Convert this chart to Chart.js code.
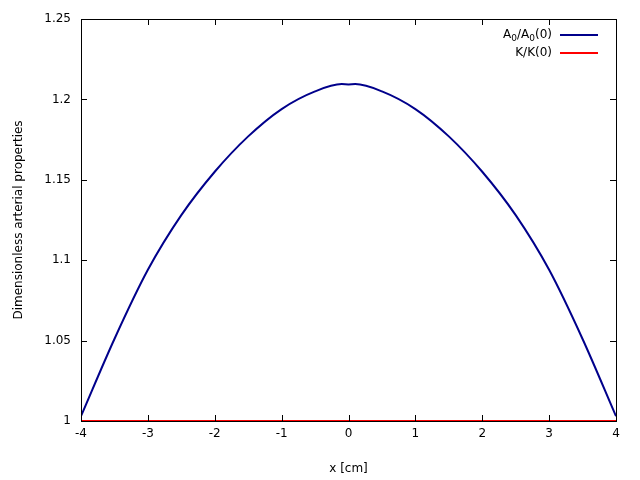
<!DOCTYPE html>
<html><head><meta charset="utf-8">
<script src="https://cdn.jsdelivr.net/npm/chart.js@4"></script>
<style>body{margin:0;background:#fff}#wrap{width:640px;height:480px}</style>
</head><body><div id="wrap"><canvas id="c"></canvas></div>
<script>
const xs = [-4, -3.5, -3, -2.5, -2, -1.5, -1, -0.5, -0.1, 0, 0.1, 0.5, 1, 1.5, 2, 2.5, 3, 3.5, 4]
const areaRatio = [1.003, 1.051, 1.094, 1.128, 1.155, 1.177, 1.194, 1.205, 1.2095, 1.2093, 1.2095, 1.205, 1.194, 1.177, 1.155, 1.128, 1.094, 1.051, 1.003]
const stiffRatio = [1, 1, 1, 1, 1, 1, 1, 1, 1, 1, 1, 1, 1, 1, 1, 1, 1, 1, 1]
const xTicks = [-4, -3, -2, -1, 0, 1, 2, 3, 4]
const yTicks = [1, 1.05, 1.1, 1.15, 1.2, 1.25]

const font = "'DejaVu Sans', sans-serif"

const frame = {
  id: 'frame',
  afterDraw(chart) {
    const c = chart.ctx, a = chart.chartArea
    const sx = chart.scales.x, sy = chart.scales.y
    c.save()
    c.strokeStyle = '#000'
    c.lineWidth = 1
    c.strokeRect(a.left + 0.5, a.top + 0.5, a.right - a.left, a.bottom - a.top)
    c.beginPath()
    xTicks.forEach(function(t){
      const p = Math.round(sx.getPixelForValue(t)) + 0.5
      c.moveTo(p, a.bottom); c.lineTo(p, a.bottom - 6)
      c.moveTo(p, a.top); c.lineTo(p, a.top + 6)
    })
    yTicks.forEach(function(t){
      const p = Math.round(sy.getPixelForValue(t)) + 0.5
      c.moveTo(a.left, p); c.lineTo(a.left + 6, p)
      c.moveTo(a.right, p); c.lineTo(a.right - 6, p)
    })
    c.stroke()
    // legend
    c.fillStyle = '#000'
    c.textBaseline = 'middle'
    c.textAlign = 'right'
    const lx = 560
    const y = 35
    const parts = [['(0)', 0], ['0', 4], ['/A', 0], ['0', 4], ['A', 0]]
    let x = lx - 8
    parts.forEach(function(p){
      c.font = (p[1] ? '9px ' : '12px ') + font
      c.fillText(p[0], x, y + p[1])
      x -= c.measureText(p[0]).width
    })
    c.font = '12px ' + font
    c.fillText('K/K(0)', lx - 8, y + 18)
    c.lineWidth = 2
    c.strokeStyle = '#00008b'
    c.beginPath(); c.moveTo(lx, y); c.lineTo(lx + 38, y); c.stroke()
    c.strokeStyle = '#ff0000'
    c.beginPath(); c.moveTo(lx, y + 18); c.lineTo(lx + 38, y + 18); c.stroke()
    c.restore()
  }
}

new Chart(document.getElementById('c'), {
  type: 'scatter',
  data: {
    datasets: [
      {
        label: 'A0/A0(0)',
        data: xs.map((x, i) => ({x: x, y: areaRatio[i]})),
        showLine: true, borderColor: '#00008b', borderWidth: 2,
        pointRadius: 0, cubicInterpolationMode: 'monotone'
      },
      {
        label: 'K/K(0)',
        data: xs.map((x, i) => ({x: x, y: stiffRatio[i]})),
        showLine: true, borderColor: '#ff0000', borderWidth: 2,
        pointRadius: 0
      }
    ]
  },
  options: {
    responsive: true,
    maintainAspectRatio: false,
    animation: false,
    layout: {padding: {top: 19, right: 24, left: 8}},
    plugins: {legend: {display: false}, tooltip: {enabled: false}},
    scales: {
      x: {
        type: 'linear', min: -4, max: 4,
        afterBuildTicks: (s) => { s.ticks = xTicks.map(v => ({value: v})) },
        grid: {display: false, drawTicks: false},
        border: {display: false},
        ticks: {color: '#000', font: {family: font, size: 12}, padding: 6},
        title: {display: true, text: 'x [cm]', color: '#000', font: {family: font, size: 12}, padding: {top: 12}},
        afterFit: (s) => { s.height = 59 }
      },
      y: {
        min: 1, max: 1.25,
        afterBuildTicks: (s) => { s.ticks = yTicks.map(v => ({value: v})) },
        grid: {display: false, drawTicks: false},
        border: {display: false},
        ticks: {color: '#000', font: {family: font, size: 12}, padding: 10,
          callback: (v) => String(v)},
        title: {display: true, text: 'Dimensionless arterial properties', color: '#000', font: {family: font, size: 12}, padding: {bottom: 14}},
        afterFit: (s) => { s.width = 73 }
      }
    }
  },
  plugins: [frame]
})
</script>
</body></html>
